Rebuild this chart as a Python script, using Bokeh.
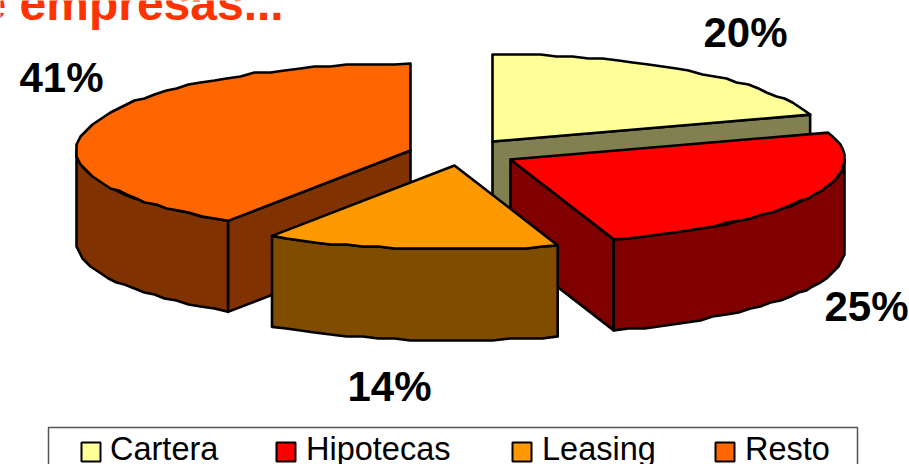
import math
from bokeh.plotting import figure
from bokeh.models import Range1d
from bokeh.core.properties import value
from bokeh.embed import file_html
from bokeh.resources import INLINE

categories = ["Cartera", "Hipotecas", "Leasing", "Resto"]
shares = [20, 25, 14.2, 40.8]
labels = ["20%", "25%", "14%", "41%"]
top_colors = ["#FFFF99", "#FF0000", "#FF9900", "#FF6600"]
side_colors = ["#808050", "#800000", "#804D00", "#803300"]
title_text = "e empresas..."

# layout (page pixels)
W, H = 909, 464
RX, RY_BACK, RY_FRONT, DEPTH = 334, 87, 84, 91
CENTERS = [(492, 141), (510, 159), (454, 165), (410, 150)]
LABEL_POS = [(703, 48), (824, 322), (347, 402), (19, 93)]
LEGEND_SWATCH_X = [81, 276, 512, 715]
LEGEND_TEXT_X = [109.5, 305.5, 541.5, 744.5]
GRID = 2.0
STEP = 16.0

p = figure(width=W, height=H, x_range=Range1d(0, W), y_range=Range1d(H, 0),
           output_backend="svg", toolbar_location=None, min_border=0,
           outline_line_color=None, background_fill_color="white",
           border_fill_color="white")
p.axis.visible = False
p.grid.visible = False
p.styles = {"position": "absolute", "left": "0", "top": "0"}


def pt(c, a, dy=0.0, snap=True):
    cs = math.cos(a)
    x = c[0] + RX * math.sin(a)
    y = c[1] - (RY_BACK if cs > 0 else RY_FRONT) * cs + dy
    if snap:
        x = round(x / GRID) * GRID
        y = round(y / GRID) * GRID
    return x, y


def arc(c, a0, a1, dy=0.0):
    span = (a1 - a0) * RX
    n = max(2, int(span / STEP))
    pts = []
    for i in range(n + 1):
        a = a0 + (a1 - a0) * i / n
        pts.append(pt(c, a, dy, snap=0 < i < n))
    return pts


def poly(pts, fill):
    p.patch([q[0] for q in pts], [q[1] for q in pts], fill_color=fill,
            line_color="black", line_width=2.6, line_join="round")


# angular limits of every slice, clockwise from 12 o'clock
limits = []
acc = 0.0
for s in shares:
    limits.append((acc, acc + s))
    acc += s
total = float(sum(shares))
ang = [(a / total * 2 * math.pi, b / total * 2 * math.pi) for a, b in limits]

for i in [0, 3, 1, 2]:
    a0, a1 = ang[i]
    c = CENTERS[i]
    side, top = side_colors[i], top_colors[i]
    # radial faces
    if 0 < a1 < math.pi:
        e = pt(c, a1, snap=False)
        poly([c, e, (e[0], e[1] + DEPTH), (c[0], c[1] + DEPTH)], side)
    if math.pi < a0 < 2 * math.pi:
        e = pt(c, a0, snap=False)
        poly([c, e, (e[0], e[1] + DEPTH), (c[0], c[1] + DEPTH)], side)
    # rim
    r0, r1 = max(a0, math.pi / 2), min(a1, 3 * math.pi / 2)
    if r1 > r0:
        upper = arc(c, r0, r1)
        lower = arc(c, r0, r1, DEPTH)
        poly(upper + lower[::-1], side)
    # top face
    poly([c] + arc(c, a0, a1), top)

bold = dict(text_font=value("Liberation Sans"), text_font_style="bold",
            text_align="left", text_baseline="alphabetic")
p.text([q[0] for q in LABEL_POS], [q[1] - 16.5 for q in LABEL_POS], text=labels,
       text_color="black", text_font_size="42px", **bold)
p.text([-21], [21 - 18], text=[title_text], text_color="#FF3300",
       text_font_size="48px", **bold)

# legend
p.quad(left=[48], right=[857], top=[427], bottom=[470], fill_color="white",
       line_color="#555555", line_width=1.5)
p.quad(left=LEGEND_SWATCH_X, right=[x + 19 for x in LEGEND_SWATCH_X],
       top=[442] * 4, bottom=[461] * 4, fill_color=top_colors,
       line_color="black", line_width=2)
p.text(LEGEND_TEXT_X, [459 - 10.5] * 4, text=categories, text_color="black",
       text_font=value("Liberation Sans"), text_font_size="32.5px",
       text_align="left", text_baseline="alphabetic")

open("out.html", "w").write(file_html(p, INLINE))
